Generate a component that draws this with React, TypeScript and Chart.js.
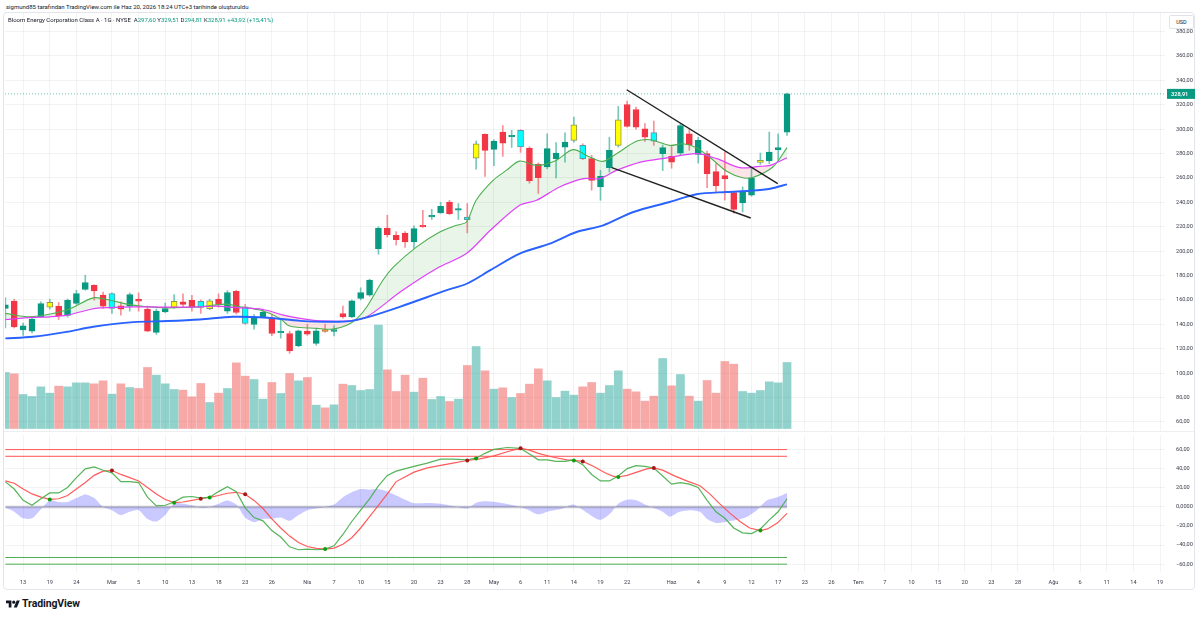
import React, { useEffect, useRef } from "react";
import { Chart, registerables } from "chart.js";

Chart.register(...registerables);

// Daily bars, Feb 11 – Jun 18 2026 (index 0 = Feb 11)
const opens = [
  153, 159, 135.5, 134.5, 146.2, 154, 155, 147.3, 157.1, 168.6,
  171.9, 163.9, 153, 155.2, 155, 160.6, 152.5, 133.4, 150.3, 153.9,
  158.4, 159.6, 158.8, 152.8, 160.6, 150.8, 167, 154.3, 139.9, 146.2,
  144.7, 133.2, 132.5, 122.4, 134.4, 124.4, 135.8, 134.2, 148.9, 146.2,
  161.2, 163.9, 202, 219, 213, 214.9, 207.5, 221.2, 228, 231.3,
  240.3, 233.5, 228, 276.3, 295.7, 283.4, 297.6, 293.8, 299, 284.5,
  271.1, 269, 275.8, 285.3, 290.8, 286.7, 275.8, 252.6, 268.5, 286.7,
  320.2, 316.1, 300.3, 297.2, 279.9, 277.7, 280.4, 296.2, 279.3, 279.9,
  265.2, 261.9, 248, 239.5, 245.8, 272.8, 273.9, 283.2, 297.6,
];
const highs = [
  162, 160.6, 141, 146, 158.4, 160.6, 158, 160.8, 168, 180.3,
  172.5, 166.5, 165.8, 158.5, 165.8, 165.8, 155, 152.6, 157.5, 164.5,
  165, 163.8, 160, 160.6, 165, 167.7, 168, 156.3, 148, 152.6,
  148, 143.5, 134.4, 135.3, 140, 136.4, 140, 139, 155, 160,
  170, 177, 220, 229.4, 216, 216, 220.7, 233.5, 234.3, 240,
  241.7, 239, 239, 290.2, 296.2, 291.2, 303, 299, 299.5, 285.5,
  272.4, 296.2, 289, 297, 309.8, 288, 278.5, 266.2, 293.4, 318.6,
  323, 318, 304.5, 306.6, 287, 287, 304.6, 299.5, 293.4, 282.1,
  271.7, 281.2, 248.5, 252.6, 268.4, 280.4, 297.6, 296.2, 329.51,
];
const lows = [
  137, 137, 131, 133, 146, 152.5, 144, 146, 156.3, 168,
  159.8, 153, 149, 147.5, 150.8, 150.8, 134, 131.8, 149.5, 153,
  154, 150.8, 149, 152, 154, 149, 148.5, 140, 136, 145.5,
  130.8, 128.7, 116.2, 121.6, 131, 122.9, 133.5, 130.5, 145, 145.5,
  160, 163, 197.5, 211.6, 205, 203, 202, 219.5, 226, 231,
  230, 226, 215, 267.3, 261.3, 270, 277.7, 285, 281, 255.7,
  247.3, 267.5, 260, 273, 289.4, 275, 250, 241.7, 264.8, 285.3,
  301.7, 300, 290, 286.7, 266, 268, 279, 282.6, 272.2, 252,
  248.5, 241.7, 231, 232.1, 245, 271.1, 271.7, 274.4, 294.81,
];
const closes = [
  156, 138, 138.8, 144.3, 157.1, 158, 147, 159.6, 165.3, 174.3,
  167.4, 155, 165.3, 152.5, 164.5, 159, 134.5, 150.8, 153, 158.8,
  156.3, 154.1, 153.9, 159.3, 156.3, 166.1, 149.7, 140.8, 145.6, 150,
  132.5, 133.8, 118.3, 134.7, 132, 134.7, 134.2, 135.8, 146.2, 159.3,
  166.1, 176.2, 219, 213.6, 209.5, 207.5, 218.5, 219.8, 229.4, 236.8,
  230.8, 234.9, 225.8, 288, 282.6, 290.2, 288.6, 294.9, 285.5, 257.5,
  260.2, 284, 280.4, 289.4, 303.6, 275.8, 258, 261.3, 282.6, 307.7,
  302.2, 301.7, 293.5, 290.2, 284.8, 273, 303, 287.2, 290.8, 263.5,
  253.4, 259.3, 234.3, 248.5, 260.2, 274.4, 281.2, 284.99, 328.91,
];
// Volume, millions of shares
const volumes = [
  16.8, 16.4, 10.2, 9.6, 12.5, 10.6, 12.7, 12.5, 13.7, 13.7,
  13.4, 14.3, 10.3, 13.4, 12.3, 12.0, 18.3, 16.0, 13.4, 11.7,
  11.5, 9.5, 13.5, 7.8, 10.6, 12.0, 19.7, 15.7, 14.7, 8.8,
  13.8, 10.5, 16.5, 14.3, 15.3, 7.0, 6.2, 7.1, 13.3, 12.9,
  11.4, 11.7, 31.0, 17.6, 11.1, 16.0, 10.9, 15.1, 8.7, 9.6,
  8.1, 8.8, 18.9, 24.6, 17.3, 11.8, 12.2, 9.3, 10.5, 13.3,
  17.9, 14.3, 9.3, 11.2, 10.0, 12.5, 13.8, 10.6, 12.9, 17.3,
  11.8, 11.0, 8.2, 9.7, 21.0, 12.8, 16.2, 9.7, 8.2, 14.4,
  10.6, 20.1, 19.3, 11.1, 10.6, 11.4, 14.0, 13.7, 19.8,
];
// Bars recoloured by the oscillator cross signal
const yellowBars = [5, 19, 23, 53, 64, 69, 85];
const cyanBars = [12, 22, 27, 52, 58, 65, 73];
const orangeBars = [36];

// Moving averages: [bar index, price]
const emaFast = [
  [0, 149], [2.8, 146.2], [6.9, 151.7], [9.9, 161.7], [11.8, 159.8], [13.7, 156.6], [15.9, 154.4],
  [18.2, 153.5], [21.9, 154.4], [24.9, 156.6], [26.4, 154.4], [28.7, 151.7], [30.9, 144.9], [32, 138.6],
  [35.1, 136.7], [36.9, 136.1], [38.5, 139.4], [39.6, 144.9], [40.7, 154.4], [42.5, 176.2], [43.7, 187.1],
  [46.3, 203.5], [48.9, 215.7], [50.8, 221.2], [51.9, 223.9], [53, 241.7], [54.9, 258], [56.4, 266.2],
  [57.9, 273.8], [59.8, 270.3], [62, 274.4], [63.9, 283.2], [65.8, 277.1], [67.3, 273.6], [68.8, 279.9],
  [71.1, 290.2], [72.6, 291.3], [74.8, 286.7], [76.3, 288], [77.8, 284.8], [79.3, 277], [81.2, 265.5],
  [83, 260.2], [84.2, 260.5], [86.4, 269], [88, 284.8],
];
const emaMid = [
  [0, 144], [3, 145.7], [5, 146.2], [7, 147.6], [9.5, 152.2], [10.7, 153.5], [14.4, 154.4], [18.2, 154.1],
  [21.9, 154.4], [23.8, 154.9], [25.6, 153.9], [29, 152.2], [31.3, 147.6], [33.2, 144.9], [35.4, 142.9],
  [38.8, 142.9], [40.7, 146.2], [44.6, 167.3], [48.6, 186], [51.9, 198], [54.6, 217.1], [57.9, 237.6],
  [59.8, 241.7], [62.4, 252.6], [65.1, 259.4], [66.9, 259.4], [68.8, 266.2], [71.5, 273], [74.5, 276.5],
  [77.8, 279.9], [80.1, 275.8], [82.7, 268.4], [84.9, 269.5], [86.1, 270.3], [88, 276.6],
];
const emaSlow = [
  [0, 128.5], [3.1, 129.8], [6.9, 133.9], [9.9, 138], [14.4, 141.8], [18.2, 142.7], [21.9, 144],
  [25.6, 146.2], [29.5, 145.4], [33.2, 142.9], [36.9, 142.1], [38.8, 142.7], [40.7, 145.7], [44.4, 154.4],
  [49.7, 168], [52, 173.5], [54.6, 184.4], [57.9, 198], [61.3, 206.2], [64.3, 215.7], [67.3, 221.2],
  [70.7, 232.1], [74.8, 240.3], [77.8, 246.6], [81.2, 248.5], [83.8, 249.5], [86.1, 251.2], [88, 254.8],
];
// Falling wedge
const upperTrend = [[69.95, 332.3], [86.95, 255.3]];
const lowerTrend = [[68.27, 268.4], [83.91, 227.2]];

// WaveTrend oscillator
const wt1 = [
  [0, 26.2], [1, 18.7], [2, 6.8], [3, 1.7], [4, 8.5], [5, 14.6], [6, 14.6], [7, 20.4], [8, 30.6], [9, 39.8],
  [10, 41.8], [11, 38.4], [12, 35.7], [13, 26.5], [14, 26.5], [15, 25.5], [16, 10.2], [17, 1], [18, 1.7], [19, 5.1],
  [20, 10.2], [21, 10.9], [22, 9.2], [23, 10.2], [24, 16], [25, 21.1], [26, 16], [27, -1], [28, -11.2], [29, -14.6],
  [30, -24.8], [31, -31.6], [32, -41.8], [33, -44.9], [34, -44.2], [35, -44.9], [36, -44.2], [37, -40.8], [38, -28.9],
  [39, -15.3], [40, -3.4], [41, 8.5], [42, 22.1], [43, 33], [44, 37.4], [46, 42.5], [47.5, 45.9], [49, 50],
  [50.4, 50], [52, 49.3], [53, 51], [54, 56.1], [55, 60.2], [56.5, 62.2], [58, 61.2], [59, 55.4], [60, 49.3],
  [61, 49.3], [62, 47.6], [63, 47.6], [64, 49.3], [65, 44.2], [66, 34], [67, 27.2], [68, 27.2], [69, 32.3],
  [70, 40.1], [71, 43.2], [72, 42.5], [73, 40.8], [74, 32.3], [75, 23.8], [76, 25.5], [77, 23.8], [78, 20.4],
  [79, 6.8], [80, -5.1], [81, -11.9], [82, -22.1], [83, -27.2], [84, -27.9], [85, -23.1], [86, -13.6], [87, -5.1], [88, 8.5],
];
const wt2 = [
  [0, 27.2], [1, 24.8], [2, 18.7], [3, 13.6], [4, 10.2], [5, 7.8], [6, 8.5], [7, 11.9], [8, 18.7], [9, 25.5],
  [10, 33], [11, 37.4], [12, 38.1], [13, 34], [14, 30.6], [15, 27.2], [16, 20.4], [17, 13.6], [18, 7.8], [19, 4.4],
  [20, 5.1], [21, 6.8], [22, 8.5], [23, 9.9], [24, 11.9], [25, 14.3], [26, 15.3], [27, 13.3], [28, 6.8], [29, -1.7],
  [30, -12.6], [31, -22.1], [32, -30.6], [33, -37.4], [34, -41.5], [35, -43.5], [36, -44.2], [37, -43.2], [38, -39.1],
  [39, -32.3], [40, -22.1], [41, -10.2], [42, 1.7], [43, 13.6], [44, 26.5], [46, 36.4], [47.5, 40.8], [49, 43.5],
  [50.4, 45.9], [52, 48.6], [53.4, 50.3], [55, 53.4], [56.5, 57.8], [58, 61.5], [59, 59.5], [60, 56.1], [61.7, 52],
  [63.2, 49.3], [64, 48.7], [65, 47.6], [66.2, 42.5], [67.5, 35.7], [68.4, 32.3], [69, 31.3], [70, 33], [71.1, 36.4],
  [72.2, 39.8], [73, 40.8], [74, 38.5], [75.2, 33], [76.7, 27.2], [78.2, 22.1], [79.3, 13.6], [80.4, 3.4],
  [81.6, -6.8], [82.7, -15.3], [83.8, -22.1], [85, -24.8], [85.8, -23.1], [86.9, -17], [88, -6.8],
];
const wtGap = [
  [0, -1], [1, -5], [2, -12], [3, -12], [4, -2.4], [5, 6.8], [6, 5.1], [7, 5.1], [8, 9.2], [9, 13], [10, 9.2],
  [11, 0], [12, -3.4], [13, -8.5], [14, -5.1], [15, -3.4], [16, -12.6], [17, -15.3], [18, -8.5], [19, 3.4], [20, 3.4],
  [21, 1.7], [22, -1], [23, 0], [24, 3.4], [25, 6.8], [26, 2.4], [27, -11.2], [28, -16], [29, -12.6], [30, -12.6],
  [31, -11.2], [32, -14.6], [33, -8.5], [34, -3.4], [35, -1.7], [36, 0], [37, 2.4], [38, 10.2], [39, 15.3], [40, 18.7],
  [41, 18], [42, 18.7], [43, 16], [44, 11.9], [45.9, 4.1], [47.5, 4.1], [49, 3.4], [50.4, 1], [52, -1.7], [53, 4.4],
  [54.2, 5.8], [55.7, 4.4], [57.2, 1.7], [58.7, -2.4], [60, -7.8], [61.3, -4.4], [62.8, -1.7], [63.9, 2.4], [65.3, -5.1],
  [66.9, -13.6], [68.1, -6.8], [69, 3.4], [70, 7.5], [71.1, 6.8], [72.2, 1.7], [72.9, -1], [74, -5.1], [74.8, -10.2],
  [75.9, -5.1], [77.1, -3.4], [78.2, -5.1], [79, -12.6], [80.1, -17], [81.2, -15.3], [82.4, -13.6], [83.5, -10.2],
  [84.6, -3.4], [85.7, 6.8], [86.9, 10.2], [88, 14.6],
];
const bullCross = [[5, 7.8], [19, 4.4], [23, 9.9], [36, -44.2], [53, 50.8], [64, 48.7], [69, 31.3], [85, -24.8]];
const bearCross = [[12, 38.1], [22, 8.5], [27, 13.3], [52, 48.6], [58, 61.5], [65, 47.6], [73, 40.8]];
const overbought = [60, 53];
const oversold = [-53, -60];

// Axis ticks
const xTickIdx = [2, 5, 8, 12, 15, 18, 21, 24, 27, 30, 34, 37, 40, 43, 46, 49, 52, 55, 58, 61, 64, 67, 70, 75, 78, 81, 84, 87, 90, 93, 96, 99, 102, 105, 108, 111, 114, 118, 121, 124, 127, 130];
const xTickText = ["13", "19", "24", "Mar", "5", "10", "13", "18", "23", "26", "Nis", "7", "10", "15", "20", "23", "28", "May", "6", "11", "14", "19", "22", "Haz", "4", "9", "12", "17", "23", "26", "Tem", "7", "10", "15", "20", "23", "28", "Ağu", "6", "11", "14", "19"];
const priceTicks = [60, 80, 100, 120, 140, 160, 180, 200, 220, 240, 260, 280, 300, 320, 340, 360, 380];
const oscTicks = [-60, -40, -20, 0, 20, 40, 60];

const LAST = opens.length - 1;
const X_MIN = -0.04;
const X_MAX = 130.55;
const P_MIN = 52.6;
const P_MAX = 395.2;
const O_MIN = -68.2;
const O_MAX = 75.3;
const VOL_PER_PX = 0.3;

const FONT = "Roboto, 'Liberation Sans', Arial, sans-serif";
const GRID = "rgba(42,46,57,0.06)";
const TEXT = "#3b3f4b";
const UP = "#089981";
const DOWN = "#F23645";

const fmt2 = (v: number) => {
  const s = Math.abs(v).toFixed(2).replace(".", ",");
  return v < 0 ? "\u2212" + s : s;
};
const pts = (arr: number[][]) => arr.map(([x, y]) => ({ x, y }));
const span = (v: number) => [{ x: 0, y: v }, { x: LAST, y: v }];

function xAxis(withLabels: boolean): any {
  return {
    type: "linear",
    min: X_MIN,
    max: X_MAX,
    offset: false,
    afterBuildTicks: (s: any) => {
      s.ticks = xTickIdx.map((v) => ({ value: v }));
    },
    afterFit: (s: any) => {
      s.height = withLabels ? 20 : 0;
      s.paddingLeft = 0;
      s.paddingRight = 0;
    },
    grid: { color: GRID, drawTicks: false, offset: false },
    border: { display: false },
    ticks: {
      display: withLabels,
      autoSkip: false,
      maxRotation: 0,
      padding: 7,
      color: TEXT,
      font: { family: FONT, size: 5.6 },
      callback: (v: number) => {
        const k = xTickIdx.indexOf(v);
        return k >= 0 ? xTickText[k] : "";
      },
    },
  };
}

function yAxis(min: number, max: number, ticks: number[], fmt: (v: number) => string): any {
  return {
    position: "right",
    min,
    max,
    afterBuildTicks: (s: any) => {
      s.ticks = ticks.map((v) => ({ value: v }));
    },
    afterFit: (s: any) => {
      s.width = 35;
      s.paddingTop = 0;
      s.paddingBottom = 0;
    },
    grid: { color: GRID, drawTicks: false },
    border: { display: false },
    ticks: { padding: 11, color: TEXT, font: { family: FONT, size: 5.6 }, callback: fmt },
  };
}

const lastPriceTag = {
  id: "lastPriceTag",
  afterDraw(chart: any) {
    const { ctx, scales, chartArea } = chart;
    const y = scales.y.getPixelForValue(closes[LAST]);
    const left = chartArea.right + 2;
    ctx.save();
    ctx.fillStyle = UP;
    ctx.fillRect(left, y - 5, 28, 10);
    ctx.fillStyle = "#ffffff";
    ctx.font = `600 5.6px ${FONT}`;
    ctx.textBaseline = "middle";
    ctx.fillText(fmt2(closes[LAST]), left + 4, y + 0.5);
    ctx.restore();
  },
};

const baseOptions: any = {
  responsive: false,
  animation: false,
  devicePixelRatio: 1,
  events: [],
  layout: { padding: { left: 5, right: 0, top: 0, bottom: 0 } },
  plugins: { legend: { display: false }, tooltip: { enabled: false }, filler: { drawTime: "beforeDatasetsDraw" } },
};

export default function App() {
  const priceRef = useRef<HTMLCanvasElement>(null);
  const oscRef = useRef<HTMLCanvasElement>(null);

  useEffect(() => {
    const idx = opens.map((_, i) => i);
    const up = (i: number) => closes[i] >= opens[i];
    const tint = (i: number) =>
      yellowBars.includes(i) ? "#FFFF00" : cyanBars.includes(i) ? "#00FFFF" : orangeBars.includes(i) ? "#FF9800" : null;
    const tintEdge = (i: number) =>
      yellowBars.includes(i) ? "#8e9552" : cyanBars.includes(i) ? "#5e97a0" : "#b5762e";

    const price = new Chart(priceRef.current as HTMLCanvasElement, {
      type: "line",
      data: {
        datasets: [
          {
            type: "bar",
            yAxisID: "yVol",
            data: idx.map((i) => ({ x: i, y: volumes[i] })),
            backgroundColor: idx.map((i) => (up(i) ? "rgba(38,166,154,0.5)" : "rgba(239,83,80,0.5)")),
            barThickness: 8,
            grouped: false,
            clip: 0,
            order: 20,
          },
          {
            data: [{ x: X_MIN, y: closes[LAST] }, { x: X_MAX, y: closes[LAST] }],
            borderColor: "rgba(8,153,129,0.6)",
            borderWidth: 1,
            borderDash: [1, 2],
            pointRadius: 0,
            order: 19,
          },
          {
            data: pts(emaSlow),
            borderColor: "#2962FF",
            borderWidth: 1.9,
            pointRadius: 0,
            tension: 0.3,
            order: 3,
          },
          {
            data: pts(emaMid),
            borderColor: "#E040FB",
            borderWidth: 1.2,
            pointRadius: 0,
            tension: 0.3,
            order: 3,
          },
          {
            data: pts(emaFast),
            borderColor: "#4CAF50",
            borderWidth: 1.1,
            pointRadius: 0,
            tension: 0.3,
            fill: { target: 3, above: "rgba(76,175,80,0.13)", below: "rgba(242,54,69,0.13)" },
            order: 3,
          },
          {
            type: "bar",
            data: idx.map((i) => ({ x: i, y: [lows[i], highs[i]] })),
            backgroundColor: idx.map((i) => (up(i) ? "rgba(8,153,129,0.55)" : "rgba(242,54,69,0.55)")),
            barThickness: 1,
            grouped: false,
            clip: 0,
            order: 6,
          },
          {
            type: "bar",
            data: idx.map((i) => ({ x: i, y: [opens[i], closes[i]] })),
            backgroundColor: idx.map((i) => tint(i) ?? (up(i) ? UP : DOWN)),
            borderColor: idx.map((i) => (tint(i) ? tintEdge(i) : up(i) ? UP : DOWN)),
            borderWidth: 1,
            borderSkipped: false,
            barThickness: 6,
            minBarLength: 1.5,
            grouped: false,
            clip: 0,
            order: 5,
          },
          {
            data: pts(upperTrend),
            borderColor: "rgba(10,10,10,0.9)",
            borderWidth: 1.4,
            pointRadius: 0,
            order: 0,
          },
          {
            data: pts(lowerTrend),
            borderColor: "rgba(10,10,10,0.9)",
            borderWidth: 1.4,
            pointRadius: 0,
            order: 0,
          },
        ] as any,
      },
      options: {
        ...baseOptions,
        scales: {
          x: xAxis(false),
          y: yAxis(P_MIN, P_MAX, priceTicks, fmt2),
          yVol: {
            display: false,
            min: -2.5 * VOL_PER_PX,
            max: -2.5 * VOL_PER_PX + 418 * VOL_PER_PX,
          },
        },
      },
      plugins: [lastPriceTag],
    } as any);

    const osc = new Chart(oscRef.current as HTMLCanvasElement, {
      type: "line",
      data: {
        datasets: [
          {
            data: pts(wtGap),
            fill: "origin",
            backgroundColor: "rgba(45,45,255,0.26)",
            borderWidth: 0,
            pointRadius: 0,
            tension: 0.25,
            order: 10,
          },
          { data: span(0), borderColor: "rgba(125,125,150,0.45)", borderWidth: 2.5, pointRadius: 0, order: 9 },
          ...overbought.map((v) => ({ data: span(v), borderColor: "#FF5252", borderWidth: 1, pointRadius: 0, order: 8 })),
          ...oversold.map((v) => ({ data: span(v), borderColor: "#4CAF50", borderWidth: 1, pointRadius: 0, order: 8 })),
          { data: pts(wt2), borderColor: "rgba(255,82,82,0.95)", borderWidth: 1.2, pointRadius: 0, order: 3 },
          { data: pts(wt1), borderColor: "rgba(76,175,80,0.95)", borderWidth: 1.2, pointRadius: 0, order: 2 },
          {
            data: pts(bullCross),
            showLine: false,
            pointRadius: 2,
            pointBackgroundColor: "#0f9d0f",
            pointBorderWidth: 0,
            order: 0,
          },
          {
            data: pts(bearCross),
            showLine: false,
            pointRadius: 2,
            pointBackgroundColor: "#a51616",
            pointBorderWidth: 0,
            order: 0,
          },
        ] as any,
      },
      options: {
        ...baseOptions,
        scales: {
          x: xAxis(true),
          y: yAxis(O_MIN, O_MAX, oscTicks, (v: number) => (v === 0 ? "0,0000" : fmt2(v))),
        },
      },
    } as any);

    return () => {
      price.destroy();
      osc.destroy();
    };
  }, []);

  const small = { fontFamily: FONT, fontSize: 6, lineHeight: "7px", whiteSpace: "nowrap" as const };
  const val = { color: UP };

  return (
    <div style={{ position: "fixed", left: 0, top: 0, width: 1200, height: 619, background: "#ffffff", overflow: "hidden" }}>
      <div style={{ ...small, position: "absolute", left: 6, top: 3, color: "#131722" }}>
        sigmund85 tarafından TradingView.com ile Haz 20, 2026 18:24 UTC+3 tarihinde oluşturuldu
      </div>

      <div
        style={{
          position: "absolute",
          left: 3,
          top: 12,
          width: 1192,
          height: 578,
          border: "1px solid #e3e5ea",
          borderRadius: 4,
          boxSizing: "border-box",
        }}
      />
      <div style={{ position: "absolute", left: 4, top: 431, width: 1190, height: 1, background: "#eceef2" }} />

      <canvas ref={priceRef} width={1200} height={418} style={{ position: "absolute", left: 0, top: 13, width: 1200, height: 418 }} />
      <canvas ref={oscRef} width={1200} height={161} style={{ position: "absolute", left: 0, top: 431, width: 1200, height: 161 }} />

      <div style={{ ...small, position: "absolute", left: 8, top: 16, color: "#131722" }}>
        Bloom Energy Corporation Class A · 1G · NYSE&nbsp;&nbsp;A<span style={val}>297,60</span> Y<span style={val}>329,51</span> D
        <span style={val}>294,81</span> K<span style={val}>328,91</span> <span style={val}>+43,92 (+15,41%)</span>
      </div>

      <div
        style={{
          position: "absolute",
          left: 1169,
          top: 15,
          width: 25,
          height: 14,
          background: "#ffffff",
          border: "1px solid #e0e3eb",
          borderRadius: 2,
          boxSizing: "border-box",
          fontFamily: FONT,
          fontSize: 5.5,
          color: "#131722",
          display: "flex",
          alignItems: "center",
          justifyContent: "center",
        }}
      >
        USD
      </div>

      <svg width="14" height="11" viewBox="0 0 36 28" style={{ position: "absolute", left: 6, top: 599 }}>
        <path d="M14 22H7V11H0V4h14v18zM28 22h-8l7.5-18h8L28 22z" fill="#131722" />
        <circle cx="20" cy="8" r="4" fill="#131722" />
      </svg>
      <div
        style={{
          position: "absolute",
          left: 22,
          top: 597,
          fontFamily: FONT,
          fontWeight: 700,
          fontSize: 10.5,
          lineHeight: "13px",
          color: "#131722",
          letterSpacing: -0.1,
        }}
      >
        TradingView
      </div>
    </div>
  );
}
